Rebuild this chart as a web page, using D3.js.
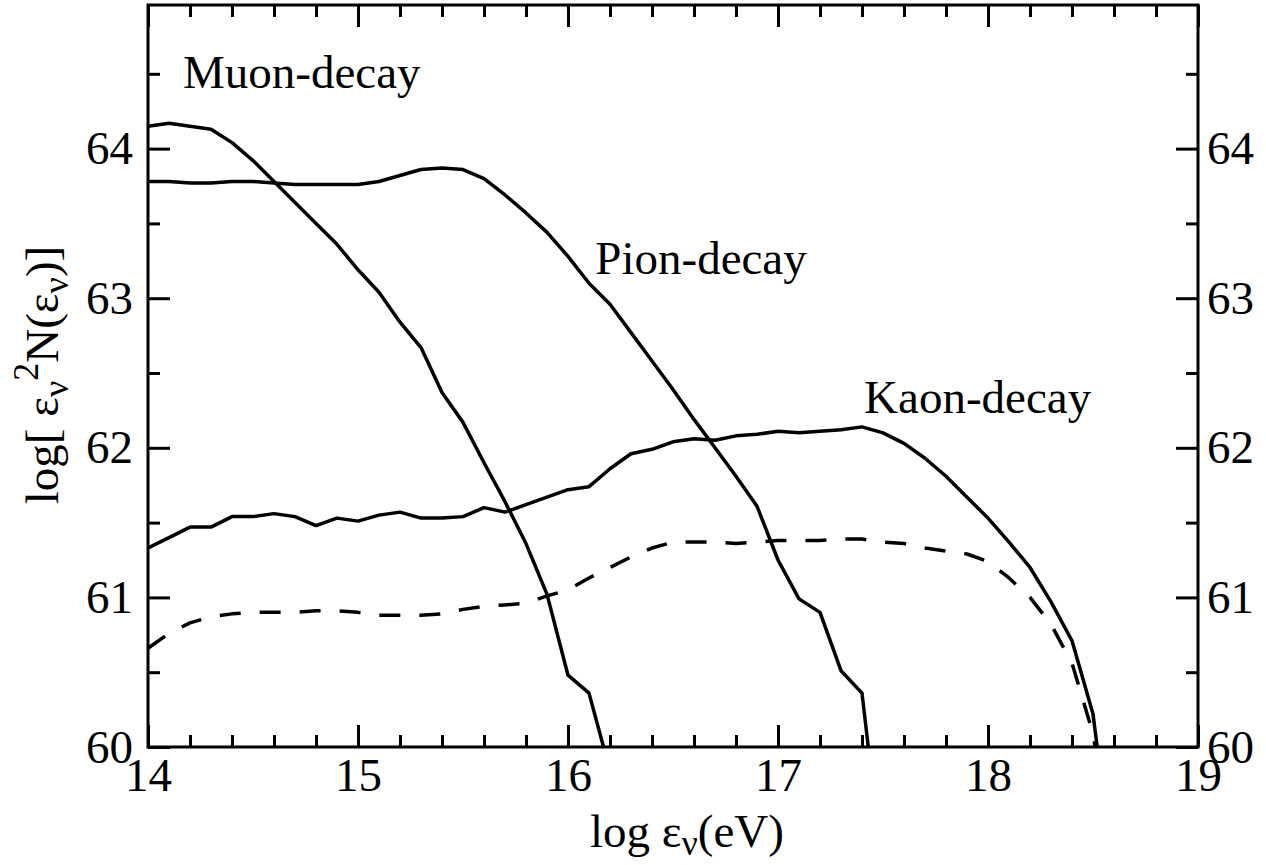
<!DOCTYPE html>
<html>
<head>
<meta charset="utf-8">
<script src="https://cdn.jsdelivr.net/npm/d3@7"></script>
<style>
  body { margin: 0; background: #fff; }
  text { font-family: "Liberation Serif", "Times New Roman", serif; }
</style>
</head>
<body>
<div id="chart"></div>
<script>
// neutrino spectra, log eps^2 N(eps) vs log eps (eV)
var energy = [14.0, 14.1, 14.2, 14.3, 14.4, 14.5, 14.6, 14.7, 14.8, 14.9,
              15.0, 15.1, 15.2, 15.3, 15.4, 15.5, 15.6, 15.7, 15.8, 15.9,
              16.0, 16.1, 16.2, 16.3, 16.4, 16.5, 16.6, 16.7, 16.8, 16.9,
              17.0, 17.1, 17.2, 17.3, 17.4, 17.5, 17.6, 17.7, 17.8, 17.9,
              18.0, 18.1, 18.2, 18.3, 18.4, 18.5, 18.6];

var muon = [64.15, 64.17, 64.15, 64.13, 64.04, 63.92, 63.78, 63.64, 63.50, 63.36,
            63.19, 63.04, 62.84, 62.67, 62.37, 62.17, 61.90, 61.64, 61.36, 61.02,
            60.48, 60.36, 59.84];

var pion = [63.78, 63.78, 63.77, 63.77, 63.78, 63.78, 63.77, 63.76, 63.76, 63.76,
            63.76, 63.78, 63.82, 63.86, 63.87, 63.86, 63.80, 63.69, 63.57, 63.44,
            63.28, 63.10, 62.96, 62.77, 62.58, 62.39, 62.19, 62.00, 61.81, 61.61,
            61.25, 60.99, 60.90, 60.51, 60.36, 59.16];

var kaon = [61.33, 61.40, 61.47, 61.47, 61.54, 61.54, 61.56, 61.54, 61.48, 61.53,
            61.51, 61.55, 61.57, 61.53, 61.53, 61.54, 61.60, 61.57, 61.62, 61.67,
            61.72, 61.74, 61.86, 61.96, 61.99, 62.04, 62.06, 62.05, 62.08, 62.09,
            62.11, 62.10, 62.11, 62.12, 62.14, 62.10, 62.03, 61.93, 61.81, 61.67,
            61.53, 61.37, 61.20, 60.97, 60.71, 60.22, 59.12];

// dashed curve
var total = [60.66, 60.76, 60.83, 60.87, 60.89, 60.90, 60.90, 60.90, 60.91, 60.91,
             60.90, 60.88, 60.88, 60.88, 60.89, 60.92, 60.94, 60.95, 60.96, 61.01,
             61.05, 61.13, 61.20, 61.27, 61.33, 61.37, 61.37, 61.37, 61.36, 61.37,
             61.38, 61.38, 61.38, 61.39, 61.39, 61.37, 61.36, 61.33, 61.31, 61.29,
             61.24, 61.13, 61.00, 60.82, 60.56, 60.09, 59.20];

var xMajor = [14, 15, 16, 17, 18, 19];
var xMinor = [14.2, 14.4, 14.6, 14.8, 15.2, 15.4, 15.6, 15.8, 16.2, 16.4, 16.6, 16.8,
              17.2, 17.4, 17.6, 17.8, 18.2, 18.4, 18.6, 18.8];
var yMajor = [60, 61, 62, 63, 64];
var yMinor = [60.5, 61.5, 62.5, 63.5, 64.5];

var labels = [
    { text: "Muon-decay", x: 14.167, y: 64.405 },
    { text: "Pion-decay", x: 16.13, y: 63.162 },
    { text: "Kaon-decay", x: 17.41, y: 62.233 }
];

var W = 1266, H = 865;

var svg = d3.select("#chart")
    .append("svg")
    .attr("width", W)
    .attr("height", H);

var x = d3.scaleLinear().domain([14, 19]).range([148, 1198]);
var y = d3.scaleLinear().domain([60, 64.96]).range([747, 5]);

var fontSize = 47;

function styleAxis(g) {
    g.attr("font-family", "'Liberation Serif', 'Times New Roman', serif")
        .attr("font-size", fontSize)
        .attr("color", "#000");
    g.select(".domain").remove();
    g.selectAll("line").attr("stroke-width", 3);
}

// bottom
svg.append("g")
    .attr("transform", "translate(0," + y.range()[0] + ")")
    .call(d3.axisBottom(x).tickValues(xMajor).tickSizeInner(-22).tickSizeOuter(0)
        .tickPadding(11).tickFormat(d3.format("d")))
    .call(styleAxis);
svg.append("g")
    .attr("transform", "translate(0," + y.range()[0] + ")")
    .call(d3.axisBottom(x).tickValues(xMinor).tickSizeInner(-12).tickSizeOuter(0).tickFormat(""))
    .call(styleAxis);

// top
svg.append("g")
    .attr("transform", "translate(0," + y.range()[1] + ")")
    .call(d3.axisTop(x).tickValues(xMajor).tickSizeInner(-22).tickSizeOuter(0).tickFormat(""))
    .call(styleAxis);
svg.append("g")
    .attr("transform", "translate(0," + y.range()[1] + ")")
    .call(d3.axisTop(x).tickValues(xMinor).tickSizeInner(-12).tickSizeOuter(0).tickFormat(""))
    .call(styleAxis);

// left
svg.append("g")
    .attr("transform", "translate(" + x.range()[0] + ",0)")
    .call(d3.axisLeft(y).tickValues(yMajor).tickSizeInner(-22).tickSizeOuter(0)
        .tickPadding(15).tickFormat(d3.format("d")))
    .call(styleAxis);
svg.append("g")
    .attr("transform", "translate(" + x.range()[0] + ",0)")
    .call(d3.axisLeft(y).tickValues(yMinor).tickSizeInner(-12).tickSizeOuter(0).tickFormat(""))
    .call(styleAxis);

// right
svg.append("g")
    .attr("transform", "translate(" + x.range()[1] + ",0)")
    .call(d3.axisRight(y).tickValues(yMajor).tickSizeInner(-22).tickSizeOuter(0)
        .tickPadding(9).tickFormat(d3.format("d")))
    .call(styleAxis);
svg.append("g")
    .attr("transform", "translate(" + x.range()[1] + ",0)")
    .call(d3.axisRight(y).tickValues(yMinor).tickSizeInner(-12).tickSizeOuter(0).tickFormat(""))
    .call(styleAxis);

// frame
svg.append("rect")
    .attr("x", x.range()[0])
    .attr("y", y.range()[1])
    .attr("width", x.range()[1] - x.range()[0])
    .attr("height", y.range()[0] - y.range()[1])
    .attr("fill", "none")
    .attr("stroke", "#000")
    .attr("stroke-width", 3);

svg.append("defs").append("clipPath")
    .attr("id", "clip")
    .append("rect")
    .attr("x", x.range()[0])
    .attr("y", y.range()[1])
    .attr("width", x.range()[1] - x.range()[0])
    .attr("height", y.range()[0] - y.range()[1]);

var line = d3.line()
    .x(d => x(d[0]))
    .y(d => y(d[1]));

var series = [
    { vals: muon, dash: null },
    { vals: pion, dash: null },
    { vals: kaon, dash: null },
    { vals: total, dash: "21,19" }
];

svg.append("g")
    .attr("clip-path", "url(#clip)")
    .selectAll("path")
    .data(series)
    .enter()
    .append("path")
    .attr("d", s => line(s.vals.map((v, i) => [energy[i], v])))
    .attr("fill", "none")
    .attr("stroke", "#000")
    .attr("stroke-width", 3.5)
    .attr("stroke-linejoin", "round")
    .attr("stroke-dasharray", s => s.dash);

svg.selectAll(".lbl")
    .data(labels)
    .enter()
    .append("text")
    .attr("class", "lbl")
    .attr("x", d => x(d.x))
    .attr("y", d => y(d.y))
    .attr("font-size", fontSize)
    .text(d => d.text);

// x title: log eps_nu (eV)
var xt = svg.append("text")
    .attr("x", 590)
    .attr("y", 847)
    .attr("font-size", fontSize);
xt.append("tspan").text("log \u03b5");
xt.append("tspan").attr("font-size", 36).attr("dy", 8).text("\u03bd");
xt.append("tspan").attr("dy", -8).text("(eV)");

// y title: log[ eps_nu^2 N(eps_nu)]
var yt = svg.append("text")
    .attr("transform", "translate(58,375) rotate(-90)")
    .attr("text-anchor", "middle")
    .attr("font-size", fontSize);
yt.append("tspan").text("log[ \u03b5");
yt.append("tspan").attr("font-size", 36).attr("dy", 10).text("\u03bd");
yt.append("tspan").attr("font-size", 36).attr("dy", -30).text("2");
yt.append("tspan").attr("dy", 20).text("N(\u03b5");
yt.append("tspan").attr("font-size", 36).attr("dy", 10).text("\u03bd");
yt.append("tspan").attr("dy", -10).text(")]");
</script>
</body>
</html>
